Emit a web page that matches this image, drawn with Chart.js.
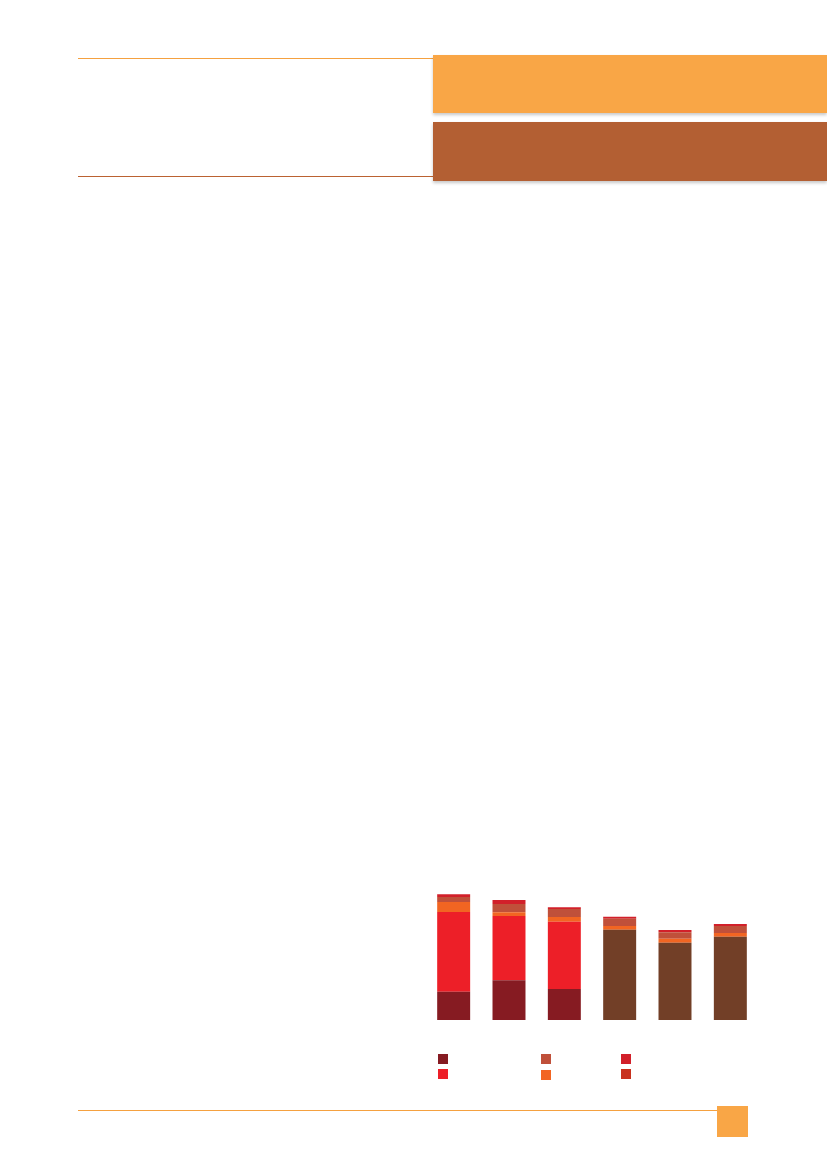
<!DOCTYPE html>
<html>
<head>
<meta charset="utf-8">
<script src="https://cdn.jsdelivr.net/npm/chart.js@4.4.0/dist/chart.umd.min.js"></script>
<style>
  html, body { margin: 0; padding: 0; background: #fff; }
  body { width: 827px; height: 1169px; position: relative; overflow: hidden; font-family: "Open Sans", sans-serif; }
  .rule { position: absolute; height: 1px; }
  .box { position: absolute; box-shadow: 0 2px 3px rgba(0,0,0,0.22); }
  #chartWrap { position: absolute; left: 426px; top: 880px; width: 332px; height: 140px; }
  .sw { position: absolute; width: 10px; height: 10px; }
</style>
</head>
<body>
<div class="rule" style="left:78px; top:58px; width:355px; background:#f5a140;"></div>
<div class="rule" style="left:78px; top:176px; width:355px; background:#bb6232;"></div>
<div class="box" style="left:433px; top:55px; width:394px; height:58px; background:#f9a646;"></div>
<div class="box" style="left:433px; top:122px; width:394px; height:59px; background:#b35f33;"></div>

<div id="chartWrap"><canvas id="chart"></canvas></div>
<div id="legend"></div>

<div class="rule" style="left:78px; top:1110px; width:639px; background:#f5a140;"></div>
<div style="position:absolute; left:717px; top:1106px; width:31px; height:31px; background:#f9a646;"></div>

<script>
// categories (no labels shown in the reference)
const categories = ["1", "2", "3", "4", "5", "6"];

// series values, bottom of stack first
const darkRed     = [28.3, 39.7, 31.0, 0, 0, 0];
const brown       = [0, 0, 0, 90.3, 77.3, 83.3];
const brightRed   = [79.7, 64.3, 67.3, 0, 0, 0];
const orange      = [10.0, 3.7, 4.7, 3.7, 4.0, 3.7];
const rust        = [5.0, 8.3, 8.0, 7.3, 6.4, 7.0];
const red         = [2.7, 4.0, 1.7, 2.0, 2.3, 2.0];
const deepOrange  = [0, 0, 0, 0, 0, 0];

const datasets = [
  { label: "Series 1", data: darkRed,    backgroundColor: "#861b22" },
  { label: "Series 7", data: brown,      backgroundColor: "#723f27" },
  { label: "Series 2", data: brightRed,  backgroundColor: "#ed1f28" },
  { label: "Series 4", data: orange,     backgroundColor: "#f26522" },
  { label: "Series 3", data: rust,       backgroundColor: "#c0503a" },
  { label: "Series 5", data: red,        backgroundColor: "#d2202a" },
  { label: "Series 6", data: deepOrange, backgroundColor: "#c8311e" },
];

new Chart(document.getElementById("chart"), {
  type: "bar",
  data: { labels: categories, datasets: datasets },
  options: {
    responsive: true,
    maintainAspectRatio: false,
    animation: false,
    layout: { padding: 0 },
    datasets: { bar: { categoryPercentage: 1, barPercentage: 0.596, borderWidth: 0 } },
    scales: {
      x: { stacked: true, display: false },
      y: { stacked: true, display: false, min: 0, max: 140 },
    },
    plugins: {
      legend: { display: false },
      tooltip: { enabled: false },
    },
  },
});

// legend squares, three columns of two (no text in the reference)
const legendOrder = ["Series 1", "Series 2", "Series 3", "Series 4", "Series 5", "Series 6"];
const colX = [438, 541, 621];
const rowY = [1054, 1069];
const legend = document.getElementById("legend");
legendOrder.forEach((name, i) => {
  const ds = datasets.find(d => d.label === name);
  const sq = document.createElement("div");
  sq.className = "sw";
  sq.style.left = colX[Math.floor(i / 2)] + "px";
  sq.style.top = (rowY[i % 2] + (i === 3 ? 1 : 0)) + "px";
  sq.style.background = ds.backgroundColor;
  legend.appendChild(sq);
});
</script>
</body>
</html>
